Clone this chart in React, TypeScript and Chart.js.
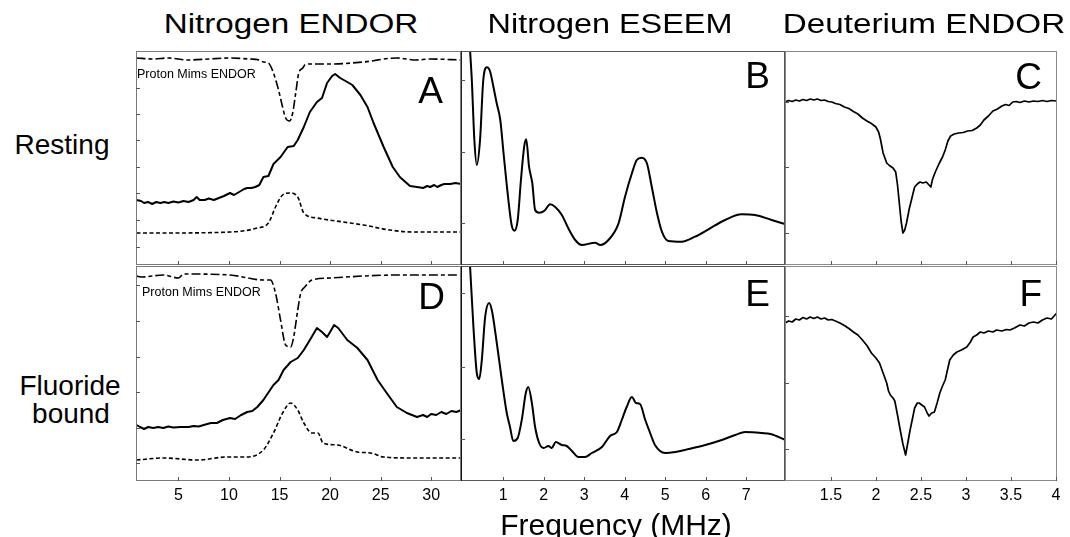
import React, { useEffect, useRef } from 'react';
import { Chart, registerables } from 'chart.js';

Chart.register(...registerables);

type Pt = [number, number];

// ---------- Data (frequency in MHz, intensity in arbitrary units) ----------
// Panel A: Nitrogen ENDOR, resting
const restingProtonMims: Pt[] = [[0.85,207],[2.5,206],[4,207],[6,205],[8,206],[10,207],[12,206],[13.0,205],[13.4,203],[13.9,202],[14.4,192],[14.9,175],[15.3,158],[15.6,147],[16.0,144],[16.3,152],[16.6,172],[16.9,192],[17.3,197],[17.5,200],[18.0,201],[20.0,201],[23.3,203],[26.6,207],[28.5,205],[29.9,206],[33,205]];
const restingNitrogenEndor: Pt[] = [[0.85,65],[1.3,64],[1.6,62],[2.0,63],[2.4,61],[2.8,63],[3.2,62],[3.6,63],[4.0,62],[4.5,63.5],[5.0,62.5],[5.5,64],[6.0,63],[6.5,65],[6.8,68],[7.1,65],[7.6,65],[8.0,66.5],[8.5,65],[9.0,67],[9.5,69],[10.1,72],[10.5,70],[11.0,73],[11.5,76],[11.8,77],[12.2,77],[12.6,78],[13.0,80],[13.4,88],[13.9,89],[14.4,101],[15.1,108],[15.8,118],[16.4,119],[16.8,125],[17.4,138],[18.0,153],[18.7,163],[19.2,167],[19.7,182],[20.2,189],[20.5,191],[21.0,187],[21.7,183],[22.2,180],[23.0,170],[23.7,158],[24.3,142],[25.3,118],[26.2,98],[26.9,88],[27.9,79],[28.6,78],[29.2,77],[29.6,79],[29.9,78],[30.3,80],[30.6,78],[31.0,80],[31.3,81],[31.9,81],[32.4,82],[33,81]];
const restingNitrogenSim: Pt[] = [[0.85,32],[3.5,32],[10.1,33],[12.8,37],[13.9,42],[14.6,58],[15.3,70],[16.0,72],[16.8,68],[17.4,52],[18.7,47],[21.3,43],[23.3,40],[25.9,35],[28.2,33],[33,33]];

// Panel D: Nitrogen ENDOR, fluoride bound
const fluorideProtonMims: Pt[] = [[0.85,205],[1.4,204],[3.5,206],[5.0,203],[5.5,207],[10.1,206],[13.4,201],[14.1,201],[14.6,188],[15.1,161],[15.6,136],[16.1,134],[16.4,144],[16.8,171],[17.1,188],[17.5,194],[18.2,201],[20.0,203],[23.3,205],[26.6,206],[33,206]];
const fluorideNitrogenEndor: Pt[] = [[0.85,56],[1.2,54],[1.6,52],[2.0,54],[2.5,53],[3.0,54],[3.5,53],[4.0,54.5],[4.5,53.5],[5.2,54],[6.0,54],[6.5,55],[7.0,54.5],[7.5,56],[8.2,58],[8.8,58],[9.4,61],[10.1,63],[10.6,62],[11.2,66],[11.8,69],[12.3,70],[12.8,74],[13.4,81],[14.4,96],[14.9,101],[15.4,111],[16.1,119],[16.8,123],[17.4,131],[18.0,141],[18.7,153],[19.2,149],[19.7,144],[20.0,149],[20.4,156],[20.8,153],[21.7,141],[22.7,133],[23.7,121],[24.7,101],[25.6,88],[26.6,74],[27.6,68],[28.6,64],[29.2,66],[29.6,64],[30.0,67],[30.5,66],[31.0,69],[31.5,67],[32.0,70],[32.5,69],[33,71]];
const fluorideNitrogenSim: Pt[] = [[0.85,21],[3.5,23],[6.9,21],[9.8,24],[11.8,24],[13.4,31],[14.4,48],[15.3,68],[16.1,78],[16.8,71],[17.4,58],[18.2,48],[18.8,48],[19.3,38],[20.7,36],[22.7,29],[24.0,28],[25.3,24],[28.2,23],[33,23]];

// Panel B: Nitrogen ESEEM, resting
const restingEseem: Pt[] = [[0.15,240],[0.185,214],[0.227,185],[0.29,125],[0.35,100],[0.43,125],[0.51,185],[0.60,197.7],[0.68,193.3],[0.76,178.3],[0.84,162],[0.93,145],[1.01,112],[1.13,65],[1.21,40],[1.28,34.3],[1.36,45],[1.44,85],[1.52,118.3],[1.57,125.7],[1.64,98.3],[1.72,82],[1.79,55],[1.89,52.3],[2.02,54.3],[2.16,60.7],[2.28,58.3],[2.45,50],[2.61,36.7],[2.78,25],[2.94,20],[3.27,22.3],[3.40,20],[3.60,25],[3.85,41.7],[4.01,68.3],[4.18,91.7],[4.30,105],[4.42,107.3],[4.55,101.7],[4.67,78.3],[4.80,51.7],[4.92,33.3],[5.08,24],[5.41,23.3],[5.74,28.3],[6.07,35.7],[6.48,45],[6.89,50.7],[7.22,50],[7.63,45],[7.96,41]];

// Panel E: Nitrogen ESEEM, fluoride bound
const fluorideEseem: Pt[] = [[0.15,240],[0.185,214],[0.267,154],[0.35,108],[0.41,102],[0.474,121],[0.556,164],[0.654,178],[0.72,171],[0.844,138],[0.968,101],[1.09,68],[1.17,54],[1.25,40],[1.36,43],[1.46,61],[1.56,88],[1.62,94],[1.71,78],[1.79,54],[1.89,38],[2.0,33],[2.12,35],[2.2,33],[2.3,39],[2.45,36],[2.57,35],[2.7,30],[2.86,24],[3.02,24],[3.19,28],[3.44,34],[3.64,45],[3.81,49],[3.93,61],[4.05,74],[4.18,84],[4.28,78],[4.38,77],[4.51,61],[4.63,48],[4.75,36],[5.0,28],[5.25,29],[5.58,32],[5.99,36],[6.4,41],[6.73,46],[6.98,49],[7.39,48],[7.6,47],[7.98,41]];

// Panel C: Deuterium ENDOR, resting
const restingDeuterium: Pt[] = [[0.99,163],[1.03,164.5],[1.07,163.5],[1.11,165],[1.15,164],[1.19,165.5],[1.23,164.5],[1.27,166],[1.31,165],[1.35,166],[1.39,164.5],[1.43,165],[1.47,163.5],[1.51,163],[1.55,161.5],[1.6,160.5],[1.65,158],[1.7,156.5],[1.75,153.5],[1.8,151],[1.85,147],[1.9,144],[1.95,141.5],[2.0,138],[2.03,133],[2.05,126],[2.08,112],[2.12,102],[2.15,99.5],[2.19,97],[2.22,93],[2.24,80],[2.26,62],[2.28,44],[2.30,32],[2.32,35],[2.34,42],[2.37,56],[2.40,67],[2.43,78],[2.46,81],[2.49,83],[2.52,82],[2.56,83],[2.59,80],[2.61,78],[2.63,86],[2.66,93],[2.70,101],[2.74,108],[2.77,115],[2.80,124],[2.83,129],[2.87,131],[2.92,132],[2.97,132.5],[3.02,134],[3.07,134.5],[3.12,137],[3.16,140],[3.20,145],[3.25,149],[3.30,154],[3.35,156],[3.40,159],[3.44,160.5],[3.48,159.5],[3.52,163],[3.56,163.5],[3.60,162.5],[3.65,164],[3.70,163],[3.75,164],[3.80,163.5],[3.85,164.5],[3.90,163.5],[3.95,164.5],[4.01,164]];

// Panel F: Deuterium ENDOR, fluoride bound
const fluorideDeuterium: Pt[] = [[0.99,158],[1.03,160],[1.07,159],[1.11,162],[1.15,161],[1.19,163.5],[1.23,162],[1.27,164],[1.31,162.5],[1.35,164],[1.39,162],[1.43,163],[1.47,161],[1.51,161.5],[1.55,160],[1.6,158],[1.65,155.5],[1.7,152.5],[1.75,149],[1.8,146],[1.85,141],[1.9,135.5],[1.95,128],[2.0,123],[2.04,118],[2.08,108],[2.12,98],[2.14,90],[2.16,86],[2.19,83],[2.21,80],[2.24,66],[2.27,51],[2.30,37],[2.33,26],[2.35,36],[2.38,51],[2.41,64],[2.43,73],[2.46,78],[2.48,78],[2.51,76],[2.54,74],[2.57,68],[2.59,65],[2.62,68],[2.65,69],[2.68,78],[2.71,88],[2.74,95],[2.77,101],[2.80,113],[2.82,121],[2.86,126],[2.90,129],[2.95,131],[3.01,134],[3.05,139],[3.08,144],[3.12,146],[3.16,149],[3.20,148],[3.25,150],[3.30,149],[3.34,151],[3.40,150],[3.45,151.5],[3.49,151],[3.54,153],[3.60,156],[3.65,155],[3.70,158],[3.75,159],[3.80,158],[3.85,161],[3.90,163],[3.95,162],[4.01,168]];

// Axis ticks
const endorTicks = [5, 10, 15, 20, 25, 30];
const endorTickLabels = ['5', '10', '15', '20', '25', '30'];
const eseemTicks = [1, 2, 3, 4, 5, 6, 7];
const eseemTickLabels = ['1', '2', '3', '4', '5', '6', '7'];
const deutTicks = [1.5, 2, 2.5, 3, 3.5, 4];
const deutTickLabels = ['1.5', '2', '2.5', '3', '3.5', '4'];

const aLeftTicks = [177, 151, 125, 98, 72, 45, 18];
const bLeftTicks = [185, 113, 42];
const cLeftTicks = [163, 98, 32];
const dLeftTicks = [196, 160, 124, 89, 53, 18];
const eLeftTicks = [188, 114, 42];
const fLeftTicks = [165, 98, 32];

const FONT = '"Liberation Sans", Arial, Helvetica, sans-serif';

type Series = { data: Pt[]; dash: number[]; width: number; smooth?: boolean };
type Spec = {
  left: number; top: number; width: number; height: number;
  xMin: number; xMax: number; yMax: number;
  series: Series[];
  xTicks: number[]; xLabels?: string[];
  leftTicks: number[];
  frame: string; leftFrame: string;
};

const DASH_LONG_SHORT = [9, 3, 4, 3];
const SHORT_DASH = [4, 2.5];

const specs: Spec[] = [
  { left: 136, top: 51, width: 325, height: 214, xMin: 0.8, xMax: 32.95, yMax: 214,
    series: [
      { data: restingProtonMims, dash: DASH_LONG_SHORT, width: 1.6, smooth: true },
      { data: restingNitrogenEndor, dash: [], width: 2 },
      { data: restingNitrogenSim, dash: SHORT_DASH, width: 1.6, smooth: true },
    ], xTicks: endorTicks, leftTicks: aLeftTicks, frame: '#7a7a7a', leftFrame: '#7a7a7a' },
  { left: 461, top: 51, width: 324, height: 214, xMin: -0.04, xMax: 7.96, yMax: 214,
    series: [{ data: restingEseem, dash: [], width: 2, smooth: true }],
    xTicks: eseemTicks, leftTicks: bLeftTicks, frame: '#555', leftFrame: '#222' },
  { left: 785, top: 51, width: 272, height: 214, xMin: 0.99, xMax: 4.012, yMax: 214,
    series: [{ data: restingDeuterium, dash: [], width: 1.7 }],
    xTicks: deutTicks, leftTicks: cLeftTicks, frame: '#8a8a8a', leftFrame: '#8a8a8a' },
  { left: 136, top: 266, width: 325, height: 215, xMin: 0.8, xMax: 32.95, yMax: 215,
    series: [
      { data: fluorideProtonMims, dash: DASH_LONG_SHORT, width: 1.6, smooth: true },
      { data: fluorideNitrogenEndor, dash: [], width: 2 },
      { data: fluorideNitrogenSim, dash: SHORT_DASH, width: 1.6, smooth: true },
    ], xTicks: endorTicks, xLabels: endorTickLabels, leftTicks: dLeftTicks, frame: '#7a7a7a', leftFrame: '#7a7a7a' },
  { left: 461, top: 266, width: 324, height: 215, xMin: -0.04, xMax: 7.96, yMax: 215,
    series: [{ data: fluorideEseem, dash: [], width: 2, smooth: true }],
    xTicks: eseemTicks, xLabels: eseemTickLabels, leftTicks: eLeftTicks, frame: '#555', leftFrame: '#111' },
  { left: 785, top: 266, width: 272, height: 215, xMin: 0.99, xMax: 4.012, yMax: 215,
    series: [{ data: fluorideDeuterium, dash: [], width: 1.7 }],
    xTicks: deutTicks, xLabels: deutTickLabels, leftTicks: fLeftTicks, frame: '#8a8a8a', leftFrame: '#8a8a8a' },
];

const PAD = 4;
const LABEL_PAD = 30;

function Panel({ spec }: { spec: Spec }) {
  const ref = useRef<HTMLCanvasElement | null>(null);
  const padBottom = spec.xLabels ? LABEL_PAD : PAD;
  useEffect(() => {
    if (!ref.current) return;
    const framePlugin = {
      id: 'frameTicks',
      afterDraw(chart: any) {
        const { ctx, chartArea: a, scales } = chart;
        const xs = scales.x;
        const ys = scales.y;
        ctx.save();
        ctx.lineWidth = 1;
        ctx.strokeStyle = spec.frame;
        ctx.beginPath();
        ctx.moveTo(a.left, a.top + 0.5);
        ctx.lineTo(a.right, a.top + 0.5);
        ctx.moveTo(a.right - 0.5, a.top);
        ctx.lineTo(a.right - 0.5, a.bottom);
        ctx.moveTo(a.right, a.bottom - 0.5);
        ctx.lineTo(a.left, a.bottom - 0.5);
        ctx.stroke();
        ctx.strokeStyle = spec.leftFrame;
        ctx.beginPath();
        ctx.moveTo(a.left + 0.5, a.top);
        ctx.lineTo(a.left + 0.5, a.bottom);
        ctx.stroke();
        ctx.strokeStyle = '#555';
        ctx.beginPath();
        for (const v of spec.xTicks) {
          const px = Math.round(xs.getPixelForValue(v)) + 0.5;
          ctx.moveTo(px, a.bottom);
          ctx.lineTo(px, a.bottom - 4);
        }
        for (const v of spec.leftTicks) {
          const py = Math.round(ys.getPixelForValue(v)) + 0.5;
          ctx.moveTo(a.left, py);
          ctx.lineTo(a.left + 4, py);
        }
        ctx.stroke();
        if (spec.xLabels) {
          ctx.fillStyle = '#000';
          ctx.font = `16px ${FONT}`;
          ctx.textAlign = 'center';
          ctx.textBaseline = 'alphabetic';
          spec.xTicks.forEach((v, i) => {
            ctx.fillText(spec.xLabels![i], xs.getPixelForValue(v), a.bottom + 19);
          });
        }
        ctx.restore();
      },
    };
    const chart = new Chart(ref.current, {
      type: 'line',
      data: {
        datasets: spec.series.map((s) => ({
          data: s.data.map(([x, y]) => ({ x, y })),
          borderColor: '#000',
          borderWidth: s.width,
          borderDash: s.dash,
          pointRadius: 0,
          fill: false,
          tension: s.smooth ? 0.4 : 0,
          cubicInterpolationMode: s.smooth ? ('monotone' as const) : ('default' as const),
          borderJoinStyle: 'round' as const,
        })),
      },
      options: {
        animation: false,
        responsive: false,
        devicePixelRatio: 1,
        events: [],
        layout: { padding: { left: PAD, right: PAD, top: PAD, bottom: padBottom } },
        plugins: { legend: { display: false }, tooltip: { enabled: false } },
        scales: {
          x: { type: 'linear', min: spec.xMin, max: spec.xMax, display: false },
          y: { type: 'linear', min: 0, max: spec.yMax, display: false },
        },
      },
      plugins: [framePlugin],
    });
    return () => chart.destroy();
  }, []);
  return (
    <canvas
      ref={ref}
      width={spec.width + 2 * PAD}
      height={spec.height + PAD + padBottom}
      style={{ position: 'absolute', left: spec.left - PAD, top: spec.top - PAD,
        width: spec.width + 2 * PAD, height: spec.height + PAD + padBottom }}
    />
  );
}

function Txt({ x, baseline, size, align = 'center', sx = 1, children }:
  { x: number; baseline: number; size: number; align?: 'left' | 'center' | 'right'; sx?: number; children: React.ReactNode }) {
  const tx = align === 'center' ? '-50%' : align === 'right' ? '-100%' : '0%';
  return (
    <div style={{
      position: 'absolute', left: x, top: baseline - 0.8465 * size, fontSize: size,
      lineHeight: `${size}px`, fontFamily: FONT, whiteSpace: 'nowrap', color: '#000',
      transform: `translateX(${tx}) scaleX(${sx})`,
      transformOrigin: align === 'center' ? '50% 50%' : align === 'right' ? '100% 50%' : '0% 50%',
    }}>{children}</div>
  );
}

export default function App() {
  const L = 37;
  return (
    <div style={{ position: 'absolute', left: 0, top: 0, width: 1070, height: 537, background: '#fff', overflow: 'hidden' }}>
      {specs.map((s, i) => <Panel key={i} spec={s} />)}
      <Txt x={291} baseline={34} size={27} sx={1.23}>Nitrogen ENDOR</Txt>
      <Txt x={610} baseline={34} size={27} sx={1.2}>Nitrogen ESEEM</Txt>
      <Txt x={924} baseline={34} size={27} sx={1.23}>Deuterium ENDOR</Txt>
      <Txt x={62} baseline={155} size={28}>Resting</Txt>
      <Txt x={70} baseline={396} size={28}>Fluoride</Txt>
      <Txt x={71} baseline={424} size={28}>bound</Txt>
      <Txt x={616} baseline={535} size={30}>Frequency (MHz)</Txt>
      <Txt x={137} baseline={79} size={12.5} align="left">Proton Mims ENDOR</Txt>
      <Txt x={142} baseline={297} size={12.5} align="left">Proton Mims ENDOR</Txt>
      <Txt x={443} baseline={77 + 0.716 * L} size={L} align="right">A</Txt>
      <Txt x={770} baseline={62 + 0.716 * L} size={L} align="right">B</Txt>
      <Txt x={1042} baseline={63 + 0.716 * L} size={L} align="right">C</Txt>
      <Txt x={445} baseline={283 + 0.716 * L} size={L} align="right">D</Txt>
      <Txt x={770} baseline={280 + 0.716 * L} size={L} align="right">E</Txt>
      <Txt x={1042} baseline={280 + 0.716 * L} size={L} align="right">F</Txt>
    </div>
  );
}
